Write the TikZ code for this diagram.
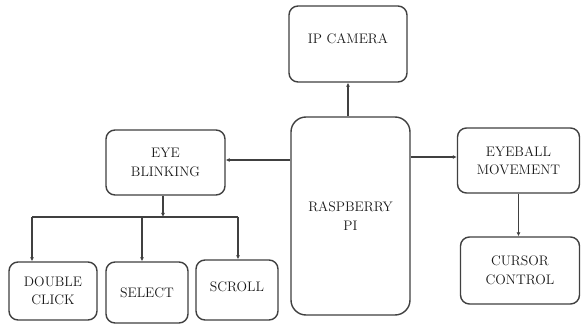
\documentclass[tikz,border=0pt]{standalone}
\usetikzlibrary{arrows.meta}
\begin{document}
\begin{tikzpicture}[x=1pt,y=-1pt,
  box/.style={draw=black!75,line width=1.4pt,rounded corners=9pt,align=center,
    font=\fontsize{13.8}{18.5}\selectfont,text=black!90,inner sep=0pt},
  arr/.style={draw=black!75,line width=1.2pt,-{Latex[length=4pt,width=4pt]}},
  ln/.style={draw=black!75,line width=1.2pt}]
\useasboundingbox[fill=white] (0,0) rectangle (582,326);
\node[box,minimum width=118pt,minimum height=76pt,text depth=10pt] (cam) at (348,44) {IP CAMERA};
\node[box,rounded corners=15pt,minimum width=119pt,minimum height=198pt] (rasp) at (350.5,216) {RASPBERRY\\PI};
\node[box,minimum width=119pt,minimum height=65pt] (blink) at (165.5,162.5) {EYE\\BLINKING};
\node[box,minimum width=88pt,minimum height=58pt] (dc) at (53,291) {DOUBLE\\CLICK};
\node[box,minimum width=82pt,minimum height=61pt] (sel) at (147,292.5) {SELECT};
\node[box,minimum width=82pt,minimum height=60pt,text depth=6pt] (scr) at (237,290) {SCROLL};
\node[box,minimum width=122pt,minimum height=65pt] (eyeb) at (518.5,160.5) {EYEBALL\\MOVEMENT};
\node[box,minimum width=119pt,minimum height=67pt] (cur) at (520,270.5) {CURSOR\\CONTROL};
\coordinate (bus) at (163,217);
\coordinate (b1) at (32,217);
\coordinate (b2) at (142,217);
\coordinate (b3) at (238,217);
\draw[arr] (cam.south |- rasp.north) -- (cam.south);
\draw[arr] (rasp.west |- 0,160) -- (blink.east |- 0,160);
\draw[arr] (rasp.east |- 0,157) -- (eyeb.west |- 0,157);
\draw[arr] (blink.south -| bus) -- (bus);
\draw[ln] (b1) -- (b3);
\draw[arr] (b1) -- (b1 |- dc.north);
\draw[arr] (b2) -- (b2 |- sel.north);
\draw[arr] (b3) -- (b3 |- scr.north);
\draw[arr] (eyeb.south) -- (eyeb.south |- cur.north);
\end{tikzpicture}
\end{document}
